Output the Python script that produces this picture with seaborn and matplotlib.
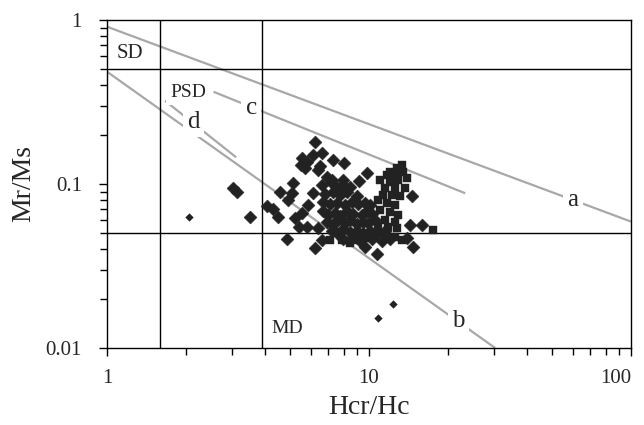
# Day plot (Mr/Ms vs Hcr/Hc) with domain boundaries and mixing curves
import matplotlib
matplotlib.use("Agg")
import matplotlib.pyplot as plt
import seaborn as sns

# Data
# diamonds (main sample set)
dia_x = [3.03, 3.13, 3.51, 4.86, 6.22, 5.55, 5.80, 5.50, 5.70, 6.11, 6.62, 7.29, 8.03, 6.50,
         6.39, 5.13, 5.08, 4.57, 4.91, 4.08, 4.30, 4.49, 5.22, 5.55, 5.85, 6.11, 5.41, 5.80,
         6.39, 6.22, 6.62, 9.83, 9.16, 7.96, 6.92, 7.22, 9.66, 10.73, 14.6, 15.9, 14.7, 14.0,
         14.3,
         6.62, 7.22, 7.55, 7.96, 8.46,
         6.79, 7.29, 7.75, 8.24, 9.00,
         6.67, 7.10, 7.55, 8.10, 8.61, 9.08, 9.66, 10.09,
         6.67, 6.98, 7.42, 7.75, 8.24, 8.69, 9.40, 9.83, 10.26,
         6.92, 7.29, 7.62, 8.10, 8.46, 9.00, 9.48, 9.91, 10.54,
         7.22, 7.55, 7.96, 8.46, 9.00, 9.48, 10.09, 10.82, 11.5,
         7.96, 8.61, 9.24, 10.26, 11.2, 12.0]
dia_y = [0.0946, 0.0894, 0.0629, 0.0462, 0.180, 0.145, 0.136, 0.131, 0.125, 0.150, 0.155, 0.140,
         0.134, 0.129, 0.122, 0.101, 0.0881, 0.0894, 0.0798, 0.0734, 0.0704, 0.0629, 0.0621,
         0.0666, 0.0745, 0.0881, 0.0547, 0.0547, 0.0539, 0.0407, 0.0456, 0.117, 0.104, 0.106,
         0.110, 0.106, 0.0413, 0.0374, 0.0845, 0.0562, 0.0413, 0.0469, 0.0562,
         0.098, 0.101, 0.095, 0.099, 0.096,
         0.087, 0.090, 0.086, 0.089, 0.085,
         0.078, 0.075, 0.077, 0.074, 0.078, 0.075, 0.077, 0.074,
         0.068, 0.065, 0.067, 0.064, 0.068, 0.066, 0.065, 0.068, 0.066,
         0.059, 0.057, 0.060, 0.058, 0.060, 0.057, 0.059, 0.058, 0.060,
         0.052, 0.050, 0.053, 0.051, 0.052, 0.050, 0.052, 0.051, 0.052,
         0.046, 0.047, 0.045, 0.046, 0.045, 0.046]

# squares (second sample set)
sq_x = [13.4, 12.8, 12.0, 11.7, 12.6, 13.5, 11.0, 12.0, 12.9, 14.0, 11.5, 12.6, 13.7, 11.3,
        12.2, 13.1, 10.82, 11.7, 12.6, 11.0, 12.0, 12.9, 11.5, 12.6, 10.82, 11.8, 12.8, 11.5,
        12.6, 13.4, 10.54, 9.66, 8.85, 17.6, 7.10, 7.89, 9.00, 9.91, 7.29, 8.46]
sq_y = [0.131, 0.125, 0.118, 0.113, 0.113, 0.118, 0.106, 0.103, 0.106, 0.109, 0.0946, 0.0946,
        0.0946, 0.0857, 0.0857, 0.0845, 0.0798, 0.0766, 0.0745, 0.0694, 0.0675, 0.0647, 0.0603,
        0.0587, 0.0554, 0.0547, 0.0539, 0.0475, 0.0475, 0.0456, 0.0489, 0.0469, 0.0456, 0.0525,
        0.0456, 0.0456, 0.0469, 0.0475, 0.0539, 0.0437]

# small diamonds
small_x = [2.06, 10.82, 12.4]
small_y = [0.0629, 0.0152, 0.0185]

# domain boundaries
hc_bounds = [1.6, 3.9]
ms_bounds = [0.5, 0.05]

# gray reference curves (start/end points)
curve_a = ([1.0, 100.0], [0.91, 0.059])
curve_b = ([1.0, 30.3], [0.484, 0.01])
curve_c = ([2.55, 23.3], [0.365, 0.0878])
curve_d = ([1.665, 3.11], [0.322, 0.1455])

sns.set_style("ticks")
plt.rcParams['font.family'] = ['Liberation Serif', 'DejaVu Serif']

fig = plt.figure(figsize=(6.44, 4.25), dpi=100)
ax = fig.add_axes([107 / 644, 77 / 425, 524 / 644, 328 / 425])
ax.set_xscale('log')
ax.set_yscale('log')

gray = '#a8a8a8'
for cx, cy in [curve_a, curve_b, curve_c, curve_d]:
    ax.plot(cx, cy, color=gray, lw=1.6, zorder=2, solid_capstyle='butt')

# black boundaries above the label boxes so they stay unbroken
for v in hc_bounds:
    ax.axvline(v, color='black', lw=1.0, zorder=3.5)
for h in ms_bounds:
    ax.axhline(h, color='black', lw=1.0, zorder=3.5)

mk = '#222222'
sns.scatterplot(x=dia_x, y=dia_y, marker='D', s=44, color=mk, edgecolor=mk, linewidth=0.3, ax=ax, zorder=4)
sns.scatterplot(x=sq_x, y=sq_y, marker='s', s=30, color=mk, edgecolor=mk, linewidth=0.3, ax=ax, zorder=4)
sns.scatterplot(x=small_x, y=small_y, marker='D', s=18, color=mk, edgecolor=mk, linewidth=0, ax=ax, zorder=4)

box = dict(facecolor='white', edgecolor='none', pad=3)
ax.text(1.22, 0.586, 'SD', fontsize=15, ha='center', va='baseline', zorder=3)
ax.text(2.04, 0.339, 'PSD', fontsize=14, ha='center', va='baseline', zorder=3, bbox=box)
ax.text(4.89, 0.01234, 'MD', fontsize=14, ha='center', va='baseline', zorder=3)
ax.text(60.1, 0.0734, 'a', fontsize=18, ha='center', va='baseline', zorder=3, bbox=box)
ax.text(21.9, 0.01343, 'b', fontsize=18, ha='center', va='baseline', zorder=3, bbox=box)
ax.text(3.55, 0.267, 'c', fontsize=18, ha='center', va='baseline', zorder=3, bbox=box)
ax.text(2.13, 0.219, 'd', fontsize=18, ha='center', va='baseline', zorder=3, bbox=box)

ax.set_xlim(1, 100)
ax.set_ylim(0.01, 1)
ax.set_xticks([1, 10, 100], ['1', '10', '100'])
ax.set_yticks([0.01, 0.1, 1], ['0.01', '0.1', '1'])
ax.tick_params(which='major', direction='out', length=6, width=1, labelsize=15, color='black')
ax.tick_params(axis='x', which='major', pad=9)
ax.tick_params(axis='y', which='major', pad=12)
ax.tick_params(which='minor', direction='out', length=5, width=1, color='black')
# keep the last x label inside the figure
ax.get_xticklabels()[-1].set_horizontalalignment('right')
for s in ax.spines.values():
    s.set_color('black')
    s.set_linewidth(1.0)

ax.set_xlabel('Hcr/Hc', fontsize=20, labelpad=5)
ax.set_ylabel('Mr/Ms', fontsize=20, labelpad=7)

fig.savefig('out.png', dpi=100)
